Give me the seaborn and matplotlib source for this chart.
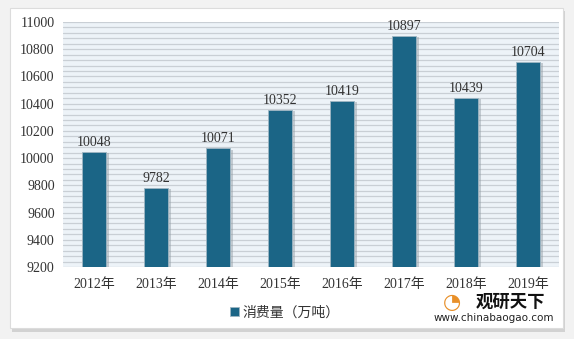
import matplotlib
matplotlib.use("Agg")
import matplotlib.pyplot as plt
import seaborn as sns
import pandas as pd
import numpy as np
from matplotlib.patches import Rectangle

years = ["2012年", "2013年", "2014年", "2015年", "2016年", "2017年", "2018年", "2019年"]
values = [10048, 9782, 10071, 10352, 10419, 10897, 10439, 10704]
yticks = [9200, 9400, 9600, 9800, 10000, 10200, 10400, 10600, 10800, 11000]
series_name = "消费量（万吨）"

sns.set_theme(style="white")
plt.rcParams['font.family'] = ['Liberation Serif', 'Noto Sans CJK SC', 'DejaVu Sans']

df = pd.DataFrame({"year": years, "value": values})

fig = plt.figure(figsize=(5.74, 3.39), dpi=100)
fig.patch.set_facecolor("#f2f2f2")

# background panel axes
bg = fig.add_axes([0, 0, 1, 1], zorder=0)
bg.set_xlim(0, 574); bg.set_ylim(339, 0); bg.axis("off")
bg.add_patch(Rectangle((12, 11), 553, 321, facecolor="#d2d2d2", edgecolor="none"))
bg.add_patch(Rectangle((10, 8), 553, 320, facecolor="white", edgecolor="#dcdcdc", linewidth=0.8))

ax = fig.add_axes([63/574, 1-267/339, 496/574, 245/339], zorder=1)
ax.set_facecolor("#edf3f8")
ax.set_ylim(9200, 11000)
for y in np.arange(9200, 11001, 40):
    ax.axhline(y, color="#c9cfd5", linewidth=0.9, zorder=0)

sns.barplot(data=df, x="year", y="value", ax=ax, color="#1b6586", width=0.4,
            saturation=1, edgecolor="#9fb6c3", linewidth=0.6, zorder=3,
            label=series_name)
ax.set_ylim(9200, 11000)
ax.set_xlim(-0.5, len(years) - 0.5)
# soft shadows behind bars
for p in list(ax.patches):
    x0 = p.get_x(); w = p.get_width(); top = p.get_y() + p.get_height()
    ax.add_patch(Rectangle((x0 + 0.035, 9200), w, top - 9200 - 8,
                           facecolor="#8f9aa2", alpha=0.45, edgecolor="none", zorder=2))

for i, v in enumerate(values):
    ax.text(i, v + 22, str(v), ha="center", va="bottom", fontsize=10, color="#333333")

ax.set_yticks(yticks)
ax.set_yticklabels([str(t) for t in yticks])
ax.tick_params(axis="x", length=0, labelsize=10, labelcolor="#333333", pad=8)
ax.tick_params(axis="y", length=0, labelsize=10, labelcolor="#333333", pad=6)
ax.set_xlabel("")
ax.set_ylabel("")
for s in ax.spines.values():
    s.set_visible(False)

leg = ax.legend(loc="upper center", bbox_to_anchor=(0.448, -0.11), frameon=False,
                fontsize=10, handlelength=0.6, handleheight=0.6, handletextpad=0.3)
for t in leg.get_texts():
    t.set_color("#333333")

# watermark
bg.text(511, 302, "观研天下", fontsize=12.5, fontweight="bold",
        family=['Noto Sans CJK SC'], ha="center", va="center", color="#111111")
bg.text(452, 302, "◔", fontsize=15, ha="center", va="center", color="#e8902a",
        family=['DejaVu Sans'])
bg.text(494, 318, "www.chinabaogao.com", fontsize=7.5, ha="center", va="center",
        color="#222222", family=['DejaVu Sans'])

fig.savefig("out.png", dpi=100, facecolor=fig.get_facecolor())
